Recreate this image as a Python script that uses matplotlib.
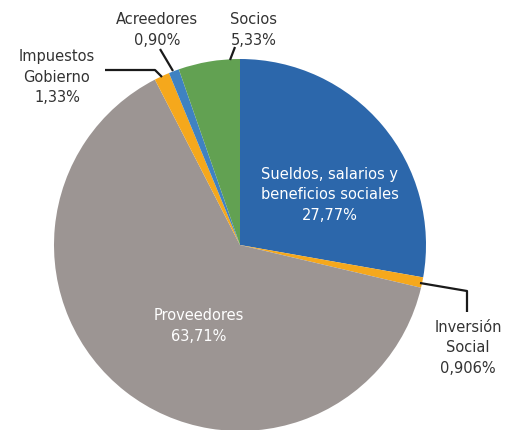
import matplotlib
matplotlib.use("Agg")
import matplotlib.pyplot as plt
import matplotlib.transforms as mtransforms

categories = ["Sueldos, salarios y\nbeneficios sociales", "Inversión\nSocial", "Proveedores",
              "Impuestos\nGobierno", "Acreedores", "Socios"]
values = [27.77, 0.906, 63.71, 1.33, 0.90, 5.33]
pct_labels = ["27,77%", "0,906%", "63,71%", "1,33%", "0,90%", "5,33%"]
colors = ["#2C67AB", "#F5A81C", "#9C9593", "#F5A81C", "#3F82C2", "#62A152"]

W, H = 506, 431
fig = plt.figure(figsize=(W / 100, H / 100), dpi=100)
ax = fig.add_axes([0, 0, 1, 1])

cx, cy, r = 240, 246, 186
wedges, _ = ax.pie(values, colors=colors, startangle=90, counterclock=False,
                   center=(cx, -cy), radius=r, frame=False)
flip = mtransforms.Affine2D().scale(1, -1)
for w in wedges:
    w.set_transform(flip + ax.transData)
    w.set_linewidth(0)
ax.set_xlim(0, W)
ax.set_ylim(H, 0)
ax.set_aspect("equal")
ax.axis("off")

font = "DejaVu Sans"
fs = 10.5
ls = 1.45
txt_dark = "#333333"

def lab(x, y, s, color):
    ax.text(x, y, s, ha="center", va="center", fontsize=fs, color=color,
            family=font, linespacing=ls)

lab(330, 195, categories[0] + "\n" + pct_labels[0], "white")
lab(199, 326, categories[2] + "\n" + pct_labels[2], "white")
lab(468, 348, categories[1] + "\n" + pct_labels[1], txt_dark)
lab(57, 77, categories[3] + "\n" + pct_labels[3], txt_dark)
lab(157, 30, categories[4] + "\n" + pct_labels[4], txt_dark)
lab(254, 30, categories[5] + "\n" + pct_labels[5], txt_dark)

lk = dict(color="#1a1a1a", lw=1.6, solid_capstyle="butt")
ax.plot([230, 235], [61, 48], **lk)
ax.plot([173, 160], [72, 50], **lk)
ax.plot([162, 155, 105], [78, 71, 71], **lk)
ax.plot([420, 467, 467], [284, 292, 313], **lk)

fig.savefig("out.png", dpi=100)
